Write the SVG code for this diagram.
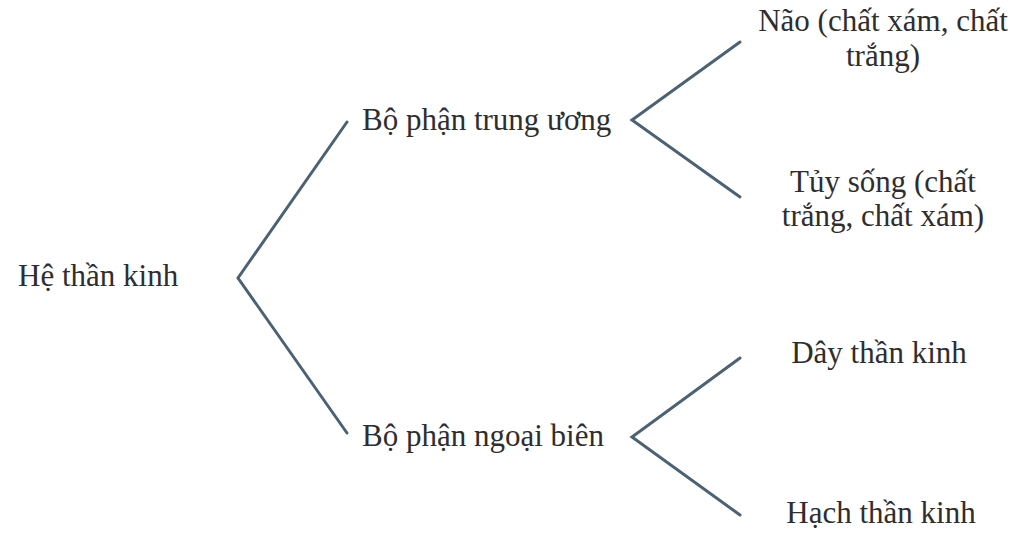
<svg xmlns="http://www.w3.org/2000/svg" width="1024" height="540" viewBox="0 0 1024 540">
<style>
text{font-family:"Liberation Serif","Times New Roman",serif;font-size:31px;fill:#2e2e2e}
.c{stroke:#4b6274;stroke-width:3;fill:none;stroke-linecap:round;stroke-linejoin:miter}
</style>
<rect width="1024" height="540" fill="#ffffff"/>
<g id="connectors">
<polyline class="c" points="347,122 238,278 347,433"/>
<polyline class="c" points="740,42 632,120 740,197"/>
<polyline class="c" points="740,358 632,437 740,515"/>
</g>
<g id="he-than-kinh"><text x="18" y="286">Hệ thần kinh</text></g>
<g id="bo-phan-trung-uong"><text x="362" y="130">Bộ phận trung ương</text></g>
<g id="bo-phan-ngoai-bien"><text x="362" y="446">Bộ phận ngoại biên</text></g>
<g id="nao"><text x="883" y="31" text-anchor="middle">Não (chất xám, chất</text><text x="883" y="66" text-anchor="middle">trắng)</text></g>
<g id="tuy-song"><text x="883" y="192" text-anchor="middle">Tủy sống (chất</text><text x="883" y="226" text-anchor="middle">trắng, chất xám)</text></g>
<g id="day-than-kinh"><text x="879" y="363" text-anchor="middle">Dây thần kinh</text></g>
<g id="hach-than-kinh"><text x="881" y="523" text-anchor="middle">Hạch thần kinh</text></g>
</svg>
